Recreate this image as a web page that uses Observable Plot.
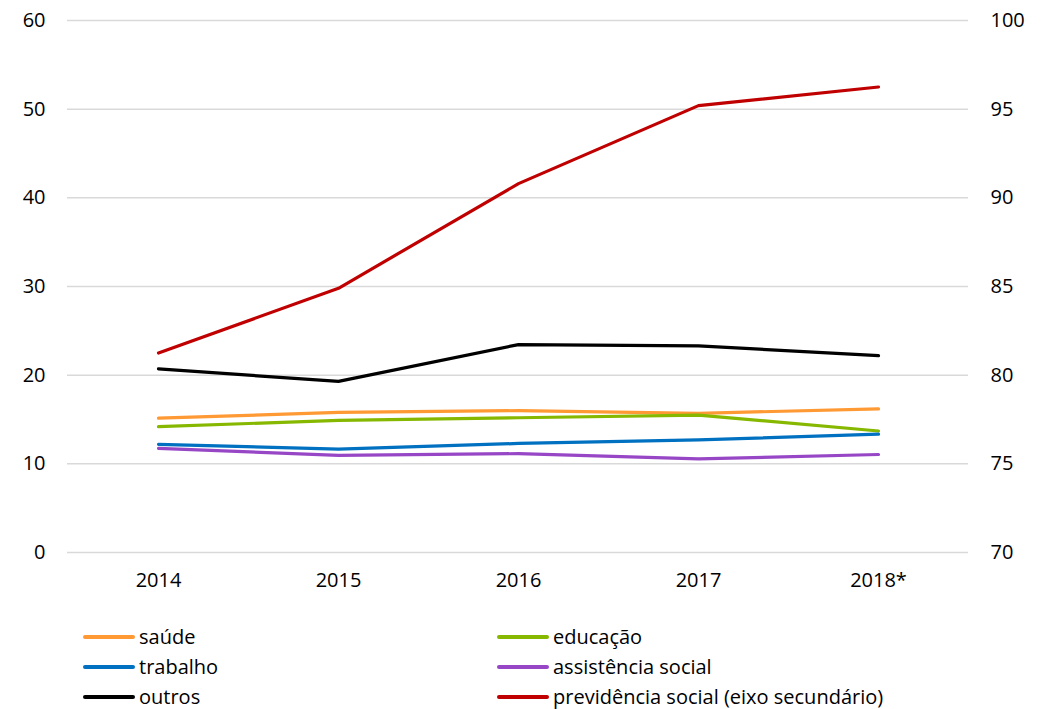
<!DOCTYPE html>
<html>
<head>
<meta charset="utf-8">
<script src="https://cdn.jsdelivr.net/npm/d3@7"></script>
<script src="https://cdn.jsdelivr.net/npm/@observablehq/plot@0.6"></script>
<style>
  html, body { margin: 0; padding: 0; background: #fff; }
  body { width: 1044px; height: 709px; overflow: hidden; font-family: "Open Sans", sans-serif; }
  #legend { position: relative; height: 109px; }
  .item { position: absolute; display: flex; align-items: center; font-size: 20px; color: #000; line-height: 1; }
  .sw { width: 52px; height: 4px; border-radius: 2px; margin-right: 4px; }
</style>
</head>
<body>
<div id="chart"></div>
<div id="legend"></div>
<script>
const years = ["2014", "2015", "2016", "2017", "2018*"];
const saude = [15.15, 15.8, 16.0, 15.7, 16.2];
const educacao = [14.2, 14.9, 15.2, 15.5, 13.7];
const trabalho = [12.2, 11.65, 12.3, 12.7, 13.35];
const assistencia = [11.75, 10.95, 11.15, 10.55, 11.05];
const outros = [20.7, 19.3, 23.45, 23.3, 22.2];
const previdencia = [81.25, 84.9, 90.8, 95.2, 96.25]; // eixo secundário
const leftTicks = [0, 10, 20, 30, 40, 50, 60];
const rightTicks = [70, 75, 80, 85, 90, 95, 100];

const seriesList = [
  {name: "saúde", values: saude, color: "#FF9933", secondary: false},
  {name: "educação", values: educacao, color: "#86B800", secondary: false},
  {name: "trabalho", values: trabalho, color: "#0070C0", secondary: false},
  {name: "assistência social", values: assistencia, color: "#9747C6", secondary: false},
  {name: "outros", values: outros, color: "#000000", secondary: false},
  {name: "previdência social (eixo secundário)", values: previdencia, color: "#C00000", secondary: true}
];

// map the secondary axis (70–100) onto the primary one (0–60)
const toPrimary = v => (v - 70) * 2;
const toSecondary = v => v / 2 + 70;

const data = seriesList.flatMap(s => s.values.map((v, i) => ({
  series: s.name, year: years[i], y: s.secondary ? toPrimary(v) : v
})));

const chart = Plot.plot({
  width: 1044,
  height: 600,
  marginLeft: 67,
  marginRight: 76,
  marginTop: 20,
  marginBottom: 48,
  style: {fontFamily: "'Open Sans', sans-serif", fontSize: "20px", color: "#000", background: "#fff"},
  x: {type: "point", domain: years, padding: 0.5, label: null},
  y: {domain: [0, 60], label: null},
  color: {domain: seriesList.map(s => s.name), range: seriesList.map(s => s.color)},
  marks: [
    Plot.ruleY(leftTicks, {stroke: "#d9d9d9", strokeWidth: 1.5}),
    Plot.axisX({tickSize: 0, tickPadding: 20, fontSize: 20, label: null}),
    Plot.axisY(leftTicks, {anchor: "left", tickSize: 0, tickPadding: 22, fontSize: 20, label: null}),
    Plot.axisY(rightTicks.map(toPrimary), {anchor: "right", tickSize: 0, tickPadding: 22, fontSize: 20, label: null, tickFormat: d => String(toSecondary(d))}),
    Plot.line(data, {x: "year", y: "y", z: "series", stroke: "series", strokeWidth: 3.2, strokeLinejoin: "round", strokeLinecap: "round"})
  ]
});
document.getElementById("chart").appendChild(chart);

// legend
const legend = document.getElementById("legend");
const positions = [
  [83, 38], [497, 38],
  [83, 68], [497, 68],
  [83, 98], [497, 98]
];
seriesList.forEach((s, i) => {
  const el = document.createElement("div");
  el.className = "item";
  el.style.left = positions[i][0] + "px";
  el.style.top = (positions[i][1] - 11) + "px";
  const sw = document.createElement("span");
  sw.className = "sw";
  sw.style.background = s.color;
  const tx = document.createElement("span");
  tx.textContent = s.name;
  el.appendChild(sw);
  el.appendChild(tx);
  legend.appendChild(el);
});
</script>
</body>
</html>
